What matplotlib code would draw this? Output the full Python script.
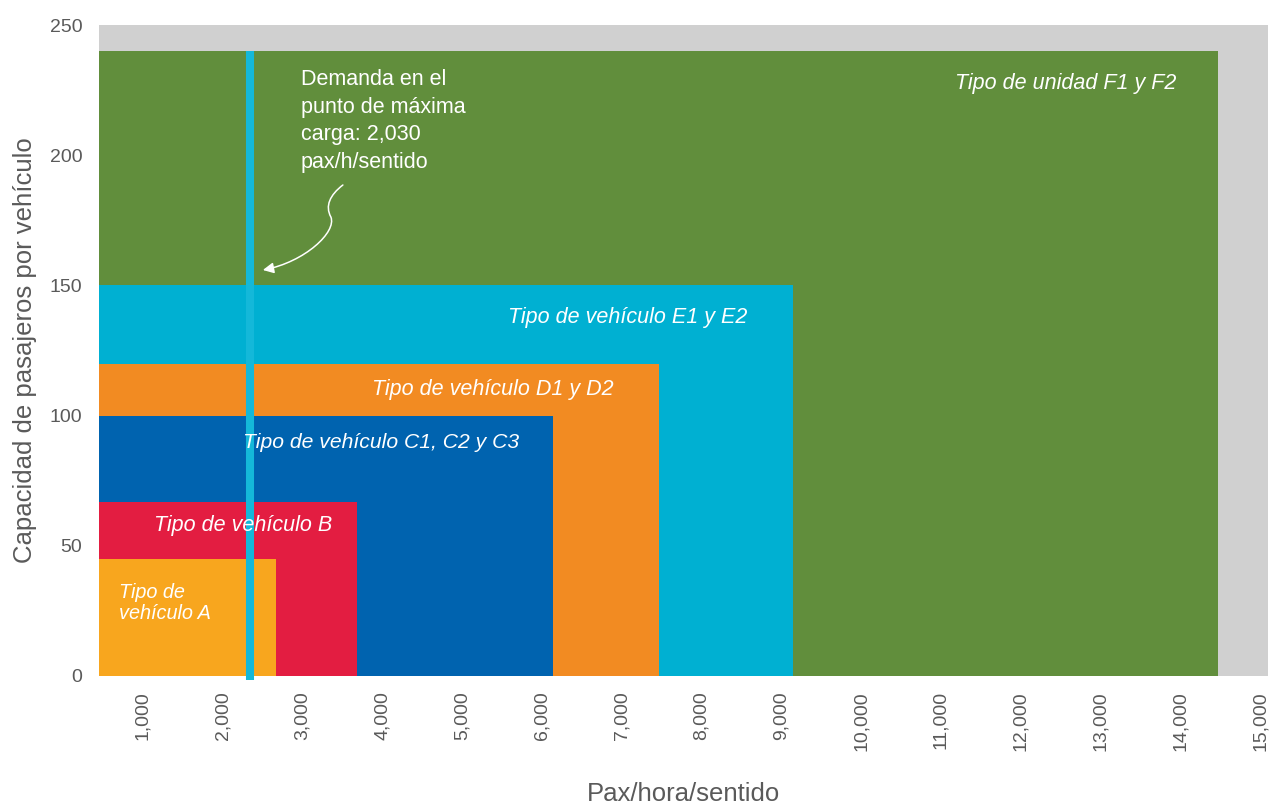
import matplotlib
matplotlib.use("Agg")
import matplotlib.pyplot as plt
from matplotlib.path import Path
from matplotlib.patches import FancyArrowPatch

plt.rcParams['font.family'] = ['Liberation Sans', 'DejaVu Sans']

# ---- data ----
categories = ["Tipo de unidad F1 y F2", "Tipo de vehículo E1 y E2", "Tipo de vehículo D1 y D2",
              "Tipo de vehículo C1, C2 y C3", "Tipo de vehículo B", "Tipo de\nvehículo A"]
capacity_pax_h = [14470, 9150, 7470, 6140, 3680, 2667]   # right edge (pax/hora/sentido)
vehicle_capacity = [240, 150, 120, 100, 67, 45]            # pasajeros por vehículo
x_start = 450
demand_x = 2340
demand_top = 240
xticks = list(range(1000, 16000, 1000))
yticks = [0, 50, 100, 150, 200, 250]

colors = ["#618E3C", "#00B0D2", "#F28B22", "#0063AF", "#E31D41", "#F8A61E"]
label_pos = [(1066, 84), (628, 318), (493, 389), (381, 442), (243, 525), (119, 603)]
label_ha = ["center", "center", "center", "center", "center", "left"]
label_size = [15.5, 15.5, 15.5, 15.2, 15.5, 14.3]

fig = plt.figure(figsize=(12.7, 8.06), dpi=100)
ax = fig.add_axes([99/1270, 1-676/806, (1268-99)/1270, (676-25)/806])
ax.set_facecolor("#D0D0D0")

ax.bar([x_start]*len(capacity_pax_h), vehicle_capacity,
       width=[c - x_start for c in capacity_pax_h], align='edge',
       color=colors, linewidth=0, zorder=2)

ax.set_xlim(450, 15100)
ax.set_ylim(0, 250)

def px2data(px, py):
    return ((px - 143) / 79.8 * 1000 + 1000, (676 - py) / 2.604)

for cat, (px, py), ha, fs in zip(categories, label_pos, label_ha, label_size):
    x, y = px2data(px, py)
    ax.text(x, y, cat, color="white", style="italic", fontsize=fs,
            ha=ha, va="center", zorder=5, linespacing=1.15)

ax.vlines(demand_x, -1.5, demand_top, color="#14B8D9", lw=5.8, zorder=4, clip_on=False)

tx, ty = px2data(301, 69)
ax.text(tx, ty, "Demanda en el\npunto de máxima\ncarga: 2,030\npax/h/sentido",
        color="white", fontsize=15.5, ha="left", va="top", linespacing=1.42, zorder=5)

pts = [(343, 185), (330, 195), (325, 206), (331, 217), (337, 232), (305, 262), (263, 270)]
verts = [px2data(*p) for p in pts]
codes = [Path.MOVETO, Path.CURVE4, Path.CURVE4, Path.CURVE4, Path.CURVE4, Path.CURVE4, Path.CURVE4]
arrow = FancyArrowPatch(path=Path(verts, codes), arrowstyle='-|>', mutation_scale=16,
                        color="white", lw=1.1, zorder=6)
ax.add_patch(arrow)

ax.set_xticks(xticks)
ax.set_xticklabels([f"{v:,}" for v in xticks], rotation=90, fontsize=14, color="#5A5A5A")
ax.set_yticks(yticks)
ax.set_yticklabels([str(v) for v in yticks], fontsize=14, color="#5A5A5A")
ax.tick_params(axis='both', length=0)
ax.tick_params(axis='x', pad=11)
ax.tick_params(axis='y', pad=12)
for s in ax.spines.values():
    s.set_visible(False)

ax.set_xlabel("Pax/hora/sentido", fontsize=18.5, color="#5A5A5A", labelpad=22)
ax.set_ylabel("Capacidad de pasajeros por vehículo", fontsize=18.5, color="#5A5A5A", labelpad=9)

fig.savefig("out.png", dpi=100)
